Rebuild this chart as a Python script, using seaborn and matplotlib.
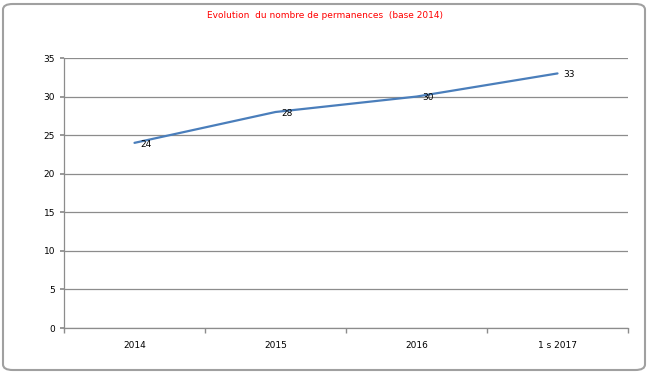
import matplotlib
matplotlib.use("Agg")
import matplotlib.pyplot as plt
import seaborn as sns
import pandas as pd
from matplotlib.patches import FancyBboxPatch

categories = ["2014", "2015", "2016", "1 s 2017"]
values = [24, 28, 30, 33]
title = "Evolution  du nombre de permanences  (base 2014)"

sns.set_theme(style="white")
plt.rcParams['font.family'] = ['DejaVu Sans']

fig = plt.figure(figsize=(6.5, 3.73), dpi=100)
ax = fig.add_axes([64/650, 45/373, 564/650, 270/373])

df = pd.DataFrame({"cat": categories, "val": values})
sns.lineplot(data=df, x="cat", y="val", ax=ax, color="#4a7ebb", linewidth=1.6, sort=False)

for i, v in enumerate(values):
    ax.annotate(str(v), (i, v), xytext=(4.5, -1), textcoords="offset points",
                fontsize=6.5, ha="left", va="center", color="black")

ax.set_xlim(-0.5, len(categories) - 0.5)
ax.set_ylim(0, 35)
ax.set_yticks(range(0, 36, 5))
ax.yaxis.grid(True, color="#8c8c8c", linewidth=0.9)
ax.set_axisbelow(True)
ax.set_xlabel("")
ax.set_ylabel("")
ax.set_xticks(range(len(categories)))
ax.set_xticklabels(categories)
ax.set_xticks([i - 0.5 for i in range(len(categories) + 1)], minor=True)
ax.tick_params(axis="x", which="major", length=0, labelsize=6.5, pad=9, labelcolor="black")
ax.tick_params(axis="x", which="minor", length=3.5, color="#8c8c8c", direction="out", bottom=True)
ax.tick_params(axis="y", length=3, color="#8c8c8c", labelsize=6.5, left=True, direction="out", labelcolor="black")
for s in ["top", "right"]:
    ax.spines[s].set_visible(False)
for s in ["left", "bottom"]:
    ax.spines[s].set_color("#8c8c8c")
    ax.spines[s].set_linewidth(0.9)

fig.text(0.5, 1 - 15/373, title, color="red", fontsize=6.5, ha="center", va="center")

border = FancyBboxPatch((3/650, 3/373), 642/650, 366/373, boxstyle="round,pad=0,rounding_size=0.015",
                        transform=fig.transFigure, fill=False, edgecolor="#a0a0a0", linewidth=1.5)
fig.patches.append(border)

fig.savefig("out.png", dpi=100)
